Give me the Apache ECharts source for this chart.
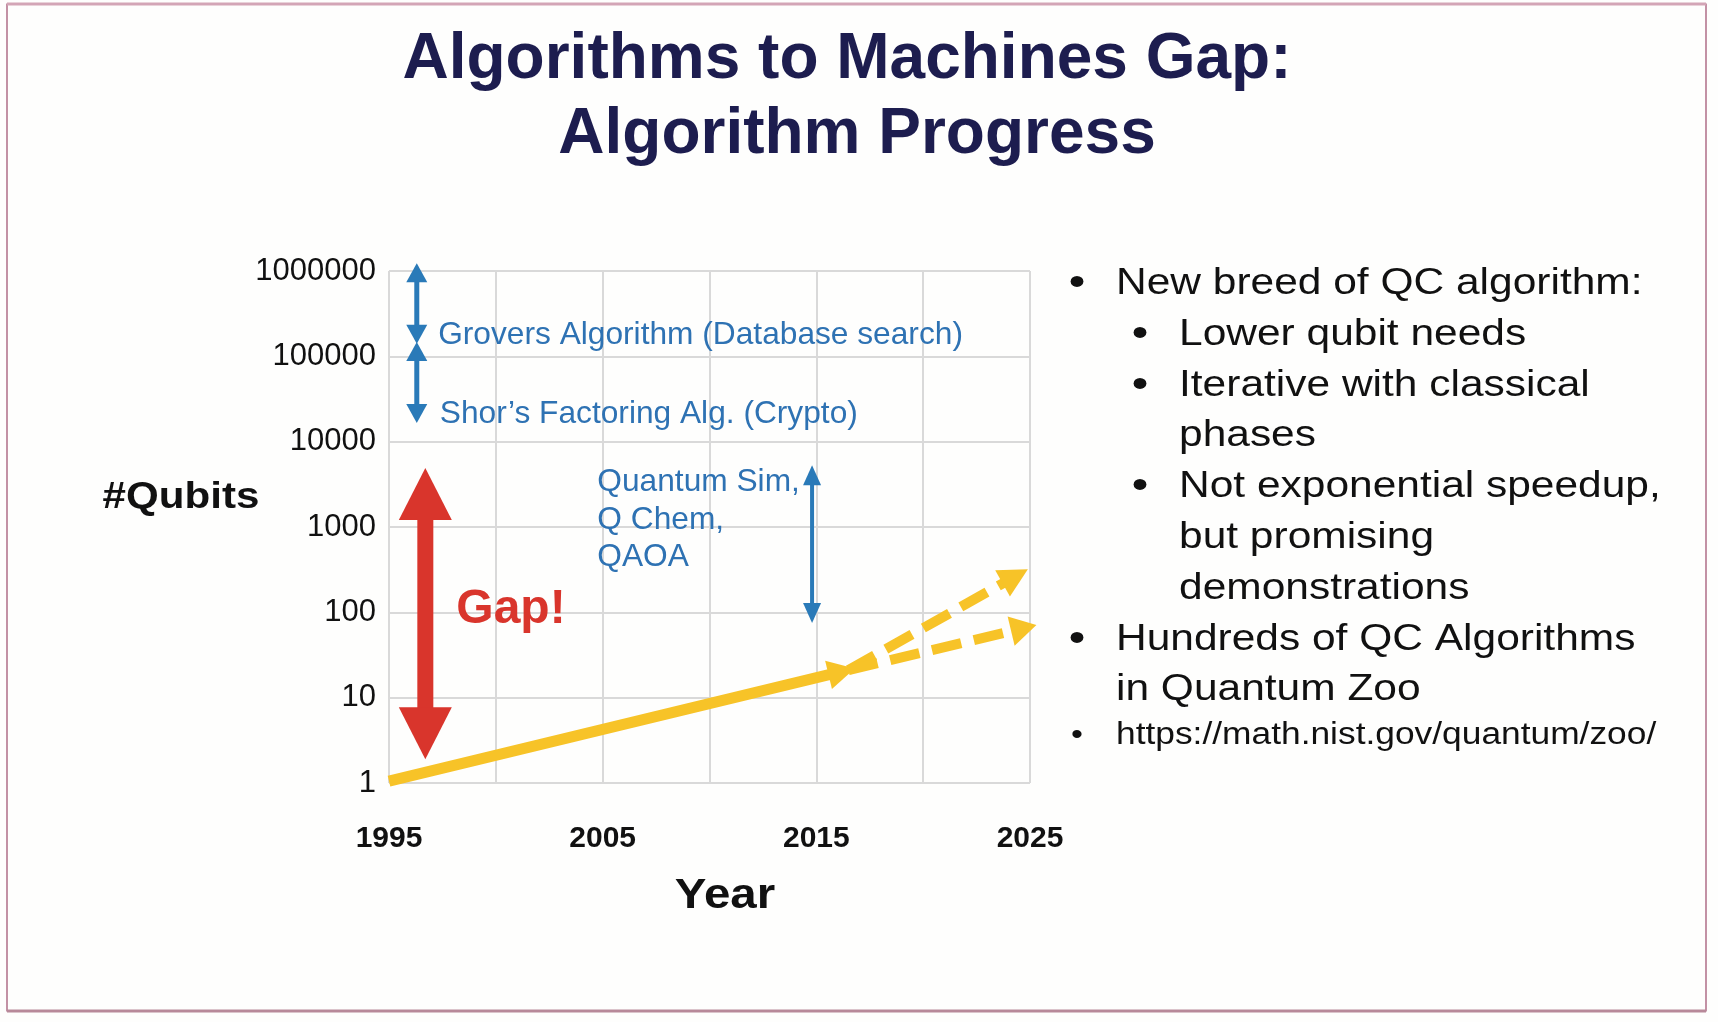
<!DOCTYPE html>
<html>
<head>
<meta charset="utf-8">
<title>Algorithms to Machines Gap</title>
<script src="https://cdn.jsdelivr.net/npm/echarts@6/dist/echarts.min.js"></script>
<style>
  html, body { margin: 0; padding: 0; background: #fefefd; }
  #chart { width: 1718px; height: 1022px; }
</style>
</head>
<body>
<div id="chart"></div>
<script>
// axis ranges / ticks
const yearTicks = [1995, 2000, 2005, 2010, 2015, 2020, 2025];
const yearLabels = [1995, 2005, 2015, 2025];
const qubitTicks = [1, 10, 100, 1000, 10000, 100000, 1000000];

// arrows: [yearFrom, qubitsFrom, yearTo, qubitsTo] (tips)
const groverSpan = [1996.3, 1230000, 1996.3, 140000];
const shorSpan = [1996.3, 147000, 1996.3, 16600];
const simSpan = [2014.8, 5300, 2014.8, 75];
const gapSpan = [1996.7, 4900, 1996.7, 1.9];
const trendSolid = [1995, 1.05, 2016.8, 22];
const trendHigh = [2016.5, 21, 2024.9, 320];
const trendLow = [2016.5, 21, 2025.3, 71];

// text notes on the plot
const noteText = ['Grovers Algorithm (Database search)', 'Shor\u2019s Factoring Alg. (Crypto)', 'Quantum Sim,\nQ Chem,\nQAOA'];
const noteYear = [1997.3, 1997.38, 2004.75];
const noteQubits = [178000, 20700, 1200];
const gapNote = ['Gap!', 1998.15, 106];

// right-hand bullets
const bullets = [
  [1, true, 'New breed of QC algorithm:'],
  [2, true, 'Lower qubit needs'],
  [2, true, 'Iterative with classical'],
  [2, false, 'phases'],
  [2, true, 'Not exponential speedup,'],
  [2, false, 'but promising'],
  [2, false, 'demonstrations'],
  [1, true, 'Hundreds of QC Algorithms'],
  [1, false, 'in Quantum Zoo']
];
const linkText = 'https://math.nist.gov/quantum/zoo/';

const FONT = '"Liberation Sans", Arial, Helvetica, sans-serif';
const BLUE = '#2e72b3';
const BLUE_ARROW = '#2a7ab8';
const RED = '#d9352c';
const YELLOW = '#f7c328';

// arrow drawn between two data points, heads sit on the tips
function arrowRenderer(opt) {
  return function (params, api) {
    const p0 = api.coord([api.value(0), api.value(1)]);
    const p1 = api.coord([api.value(2), api.value(3)]);
    const dx = p1[0] - p0[0], dy = p1[1] - p0[1];
    const len = Math.hypot(dx, dy);
    const ux = dx / len, uy = dy / len;
    const nx = -uy, ny = ux;
    const hw = opt.head[0] / 2, hl = opt.head[1];
    const head = (tip, sx, sy) => ({
      type: 'polygon',
      shape: {
        points: [
          tip,
          [tip[0] - sx * hl + nx * hw, tip[1] - sy * hl + ny * hw],
          [tip[0] - sx * hl - nx * hw, tip[1] - sy * hl - ny * hw]
        ]
      },
      style: { fill: opt.color }
    });
    const a = opt.both ? [p0[0] + ux * hl * 0.9, p0[1] + uy * hl * 0.9] : p0;
    const b = [p1[0] - ux * hl * 0.9, p1[1] - uy * hl * 0.9];
    const children = [{
      type: 'line',
      shape: { x1: a[0], y1: a[1], x2: b[0], y2: b[1] },
      style: { stroke: opt.color, lineWidth: opt.width, lineDash: opt.dash || null, lineCap: 'butt' }
    }, head(p1, ux, uy)];
    if (opt.both) children.push(head(p0, -ux, -uy));
    return { type: 'group', children: children };
  };
}

function arrowSeries(span, opt) {
  return {
    type: 'custom',
    coordinateSystem: 'cartesian2d',
    silent: true,
    clip: false,
    data: [span],
    renderItem: arrowRenderer(opt)
  };
}

// slide texts
const graphics = [
  { type: 'rect', shape: { x: 7, y: 4, width: 1699, height: 1007 }, style: { fill: null, stroke: '#9c4a6c', lineWidth: 1.2 }, silent: true },
  { type: 'line', shape: { x1: 7, y1: 4, x2: 1706, y2: 4 }, style: { stroke: '#d3a5b6', lineWidth: 3 }, silent: true },
  { type: 'line', shape: { x1: 7, y1: 1011, x2: 1706, y2: 1011 }, style: { stroke: '#b8899a', lineWidth: 3 }, silent: true },
  { type: 'text', x: 847, y: 60, style: { text: 'Algorithms to Machines Gap:', fontFamily: FONT, fontSize: 64, fontWeight: 'bold', fill: '#1d1d4f', align: 'center', verticalAlign: 'middle' } },
  { type: 'text', x: 857, y: 135.5, style: { text: 'Algorithm Progress', fontFamily: FONT, fontSize: 64, fontWeight: 'bold', fill: '#1d1d4f', align: 'center', verticalAlign: 'middle' } },
  { type: 'text', x: 181, y: 498, scaleX: 1.17, style: { text: '#Qubits', fontFamily: FONT, fontSize: 36, fontWeight: 'bold', fill: '#111', align: 'center', verticalAlign: 'middle' } },
  { type: 'text', x: 725, y: 896, scaleX: 1.13, style: { text: 'Year', fontFamily: FONT, fontSize: 42, fontWeight: 'bold', fill: '#111', align: 'center', verticalAlign: 'middle' } }
];

bullets.forEach(function (b, i) {
  const y = 284 + i * 50.8;
  const dotX = b[0] === 1 ? 1077 : 1140;
  const textX = b[0] === 1 ? 1116 : 1179;
  if (b[1]) {
    graphics.push({ type: 'text', x: dotX, y: y, scaleX: 1.18, style: { text: '\u2022', fontFamily: FONT, fontSize: 40, fill: '#111', align: 'center', verticalAlign: 'middle' } });
  }
  graphics.push({ type: 'text', x: textX, y: y, scaleX: 1.18, style: { text: b[2], fontFamily: FONT, fontSize: 36, fill: '#111', align: 'left', verticalAlign: 'middle' } });
});
graphics.push({ type: 'text', x: 1077, y: 735.5, scaleX: 1.14, style: { text: '\u2022', fontFamily: FONT, fontSize: 30, fill: '#111', align: 'center', verticalAlign: 'middle' } });
graphics.push({ type: 'text', x: 1116, y: 735.5, scaleX: 1.14, style: { text: linkText, fontFamily: FONT, fontSize: 31, fill: '#111', align: 'left', verticalAlign: 'middle' } });

const chart = echarts.init(document.getElementById('chart'), null, { renderer: 'canvas' });

const option = {
  backgroundColor: '#fefefd',
  animation: false,
  grid: { left: 389, right: 688, top: 271, bottom: 239 },
  xAxis: {
    type: 'value',
    min: yearTicks[0],
    max: yearTicks[yearTicks.length - 1],
    interval: 5,
    axisLine: { show: false },
    axisTick: { show: false },
    splitLine: { show: true, lineStyle: { color: '#d9d9d9', width: 2 } },
    axisLabel: {
      margin: 41,
      fontFamily: FONT,
      fontSize: 30,
      fontWeight: 'bold',
      color: '#111',
      formatter: v => (yearLabels.indexOf(Math.round(v)) >= 0 ? String(Math.round(v)) : '')
    }
  },
  yAxis: {
    type: 'log',
    logBase: 10,
    min: qubitTicks[0],
    max: qubitTicks[qubitTicks.length - 1],
    splitNumber: qubitTicks.length - 1,
    axisLine: { show: false },
    axisTick: { show: false },
    splitLine: { show: true, lineStyle: { color: '#d9d9d9', width: 2 } },
    axisLabel: {
      margin: 13,
      fontFamily: FONT,
      fontSize: 31,
      color: '#111',
      padding: [0, 0, 12, 0],
      formatter: v => String(Math.round(v))
    }
  },
  graphic: graphics,
  series: [
    arrowSeries(trendSolid, { color: YELLOW, width: 11, head: [29, 27] }),
    arrowSeries(trendHigh, { color: YELLOW, width: 10, head: [30, 29], dash: [30, 13] }),
    arrowSeries(trendLow, { color: YELLOW, width: 10, head: [30, 26], dash: [30, 13] }),
    arrowSeries(groverSpan, { color: BLUE_ARROW, width: 5, head: [21, 19], both: true }),
    arrowSeries(shorSpan, { color: BLUE_ARROW, width: 5, head: [21, 19], both: true }),
    arrowSeries(simSpan, { color: BLUE_ARROW, width: 4, head: [18, 20], both: true }),
    arrowSeries(gapSpan, { color: RED, width: 16, head: [53, 52], both: true }),
    {
      type: 'scatter',
      silent: true,
      symbolSize: 0,
      itemStyle: { opacity: 1 },
      data: noteText.map((t, i) => ({ name: t, value: [noteYear[i], noteQubits[i]] })),
      label: {
        show: true,
        position: 'right',
        distance: 0,
        formatter: '{b}',
        fontFamily: FONT,
        fontSize: 31.7,
        lineHeight: 37.5,
        color: BLUE,
        opacity: 1
      }
    },
    {
      type: 'scatter',
      silent: true,
      symbolSize: 0,
      itemStyle: { opacity: 1 },
      data: [{ name: gapNote[0], value: [gapNote[1], gapNote[2]] }],
      label: {
        show: true,
        position: 'right',
        distance: 0,
        formatter: '{b}',
        fontFamily: FONT,
        fontSize: 48,
        fontWeight: 'bold',
        color: RED,
        opacity: 1
      }
    }
  ]
};

chart.setOption(option);
</script>
</body>
</html>
